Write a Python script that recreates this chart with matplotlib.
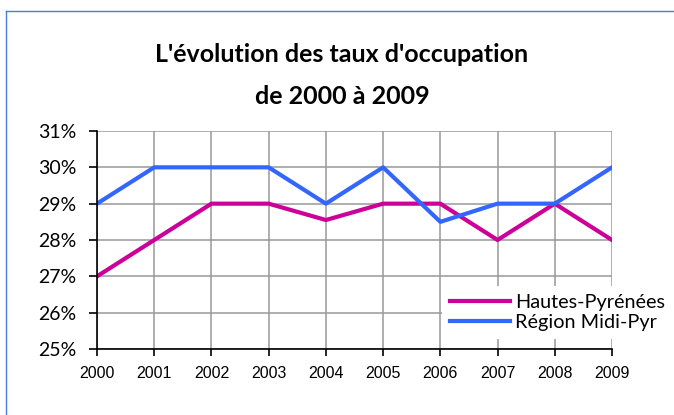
import matplotlib.pyplot as plt
from matplotlib.lines import Line2D
from matplotlib.ticker import FuncFormatter

years = [2000, 2001, 2002, 2003, 2004, 2005, 2006, 2007, 2008, 2009]
hautes_pyrenees = [27, 28, 29, 29, 28.55, 29, 29, 28, 29, 28]
region_midi_pyr = [29, 30, 30, 30, 29, 30, 28.5, 29, 29, 30]
labels = ["Hautes-Pyrénées", "Région Midi-Pyr"]
title1 = "L'évolution des taux d'occupation"
title2 = "de 2000 à 2009"

W, H = 674, 415
fig = plt.figure(figsize=(W / 100, H / 100), dpi=100)

# outer chart frame: only its left and top edges fall inside the picture
frame_x, frame_y = 5.5 / W, 1 - 11.5 / H
fig.add_artist(Line2D([frame_x, frame_x], [0, frame_y], transform=fig.transFigure,
                      color='#4A7BE0', linewidth=1.0))
fig.add_artist(Line2D([frame_x, 1], [frame_y, frame_y], transform=fig.transFigure,
                      color='#4A7BE0', linewidth=1.0))

ax = fig.add_axes([97 / W, (H - 349) / H, 515 / W, 218 / H])
ax.plot(years, hautes_pyrenees, color='#CC0099', linewidth=3, label=labels[0], zorder=3)
ax.plot(years, region_midi_pyr, color='#3366FF', linewidth=3, label=labels[1], zorder=3)

ax.set_xlim(2000, 2009)
ax.set_ylim(25, 31)
ax.set_xticks(years)
ax.set_yticks(range(25, 32))
ax.yaxis.set_major_formatter(FuncFormatter(lambda v, p: f"{v:.0f}%"))
ax.grid(True, color='#999999', linewidth=1.1)
ax.set_axisbelow(True)

for s in ['top', 'right']:
    ax.spines[s].set_visible(False)
for s in ['left', 'bottom']:
    ax.spines[s].set_color('black')
    ax.spines[s].set_linewidth(1.2)
    ax.spines[s].set_zorder(4)

ax.tick_params(axis='y', direction='out', length=6, width=1.2, pad=9,
               labelsize=14, labelfontfamily='Lato')
ax.tick_params(axis='x', direction='out', length=5, width=1.2, pad=7,
               labelsize=11.5, labelfontfamily='Liberation Sans')

leg = ax.legend(loc='upper left', bbox_to_anchor=(442 / W, 1 - 286 / H),
                bbox_transform=fig.transFigure, frameon=True, fancybox=False,
                edgecolor='white', framealpha=1, borderaxespad=0, borderpad=0.4,
                handlelength=3.0, handletextpad=0.3, labelspacing=0.15,
                prop={'family': 'Lato', 'size': 14.3})
leg.get_frame().set_linewidth(0)

fig.text(342 / W, 1 - 55 / H, title1, ha='center', va='center',
         fontsize=18, fontweight='bold', fontfamily='Lato')
fig.text(342 / W, 1 - 97 / H, title2, ha='center', va='center',
         fontsize=18, fontweight='bold', fontfamily='Lato')

fig.savefig('out.png', dpi=100)
